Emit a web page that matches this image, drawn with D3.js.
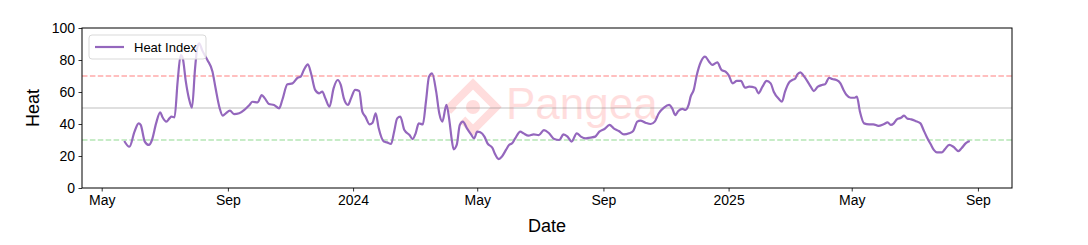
<!DOCTYPE html>
<html>
<head>
<meta charset="utf-8">
<script src="https://cdn.jsdelivr.net/npm/d3@7"></script>
<style>
  body { margin: 0; background: #fff; }
  svg { font-family: "Liberation Sans", Arial, sans-serif; }
</style>
</head>
<body>
<div id="chart"></div>
<script>
const W = 1088, H = 245;
const margin = {top: 28, right: 76, bottom: 57, left: 82};

// series
const dates = [
  "2023-05-23","2023-05-28","2023-06-02","2023-06-06","2023-06-08","2023-06-12","2023-06-16","2023-06-19",
  "2023-06-23","2023-06-27","2023-06-29","2023-07-03","2023-07-06","2023-07-08","2023-07-11","2023-07-14",
  "2023-07-17","2023-07-19","2023-07-22","2023-07-25","2023-07-28","2023-07-31","2023-08-02","2023-08-04",
  "2023-08-07","2023-08-12","2023-08-17","2023-08-20","2023-08-24","2023-08-27","2023-08-30","2023-09-03",
  "2023-09-07","2023-09-12","2023-09-17","2023-09-22","2023-09-25","2023-09-30","2023-10-04","2023-10-07",
  "2023-10-11","2023-10-16","2023-10-21","2023-10-24","2023-10-29","2023-11-03","2023-11-08","2023-11-11",
  "2023-11-14","2023-11-18","2023-11-21","2023-11-25","2023-11-29","2023-12-02","2023-12-05","2023-12-09",
  "2023-12-13","2023-12-17","2023-12-20","2023-12-23","2023-12-27","2023-12-30",
  "2024-01-03","2024-01-07","2024-01-10","2024-01-13","2024-01-17","2024-01-20","2024-01-23","2024-01-26",
  "2024-01-31","2024-02-03","2024-02-07","2024-02-10","2024-02-13","2024-02-16","2024-02-20","2024-02-25",
  "2024-02-28","2024-03-02","2024-03-05","2024-03-09","2024-03-12","2024-03-15","2024-03-18","2024-03-22",
  "2024-03-25","2024-03-28","2024-04-01","2024-04-04","2024-04-06","2024-04-08","2024-04-11","2024-04-14",
  "2024-04-17","2024-04-21","2024-04-25","2024-04-28","2024-05-01","2024-05-04","2024-05-08","2024-05-11",
  "2024-05-16","2024-05-18","2024-05-22","2024-05-25","2024-05-29","2024-06-01","2024-06-04","2024-06-07",
  "2024-06-12","2024-06-15","2024-06-20","2024-06-25","2024-06-30","2024-07-05","2024-07-10","2024-07-15",
  "2024-07-20","2024-07-24","2024-07-28","2024-08-01","2024-08-06","2024-08-10","2024-08-15","2024-08-19",
  "2024-08-24","2024-08-28","2024-09-02","2024-09-07","2024-09-11","2024-09-16","2024-09-21","2024-09-26",
  "2024-09-30","2024-10-04","2024-10-07","2024-10-12","2024-10-17","2024-10-21","2024-10-25","2024-10-30",
  "2024-11-04","2024-11-07","2024-11-10","2024-11-13","2024-11-17","2024-11-20","2024-11-23","2024-11-25",
  "2024-11-28","2024-12-01","2024-12-05","2024-12-09","2024-12-13","2024-12-16","2024-12-21","2024-12-25",
  "2024-12-29",
  "2025-01-01","2025-01-05","2025-01-09","2025-01-13","2025-01-17","2025-01-21","2025-01-27","2025-01-30",
  "2025-02-03","2025-02-07","2025-02-11","2025-02-14","2025-02-19","2025-02-22","2025-02-25","2025-03-01",
  "2025-03-04","2025-03-07","2025-03-09","2025-03-12","2025-03-15","2025-03-19","2025-03-22","2025-03-25",
  "2025-03-29","2025-04-02","2025-04-05","2025-04-09","2025-04-12","2025-04-16","2025-04-20","2025-04-23",
  "2025-04-26","2025-04-30","2025-05-04","2025-05-06","2025-05-09","2025-05-13","2025-05-18","2025-05-22",
  "2025-05-27","2025-06-01","2025-06-05","2025-06-08","2025-06-11","2025-06-14","2025-06-18","2025-06-21",
  "2025-06-24","2025-06-28","2025-07-02","2025-07-07","2025-07-10","2025-07-13","2025-07-17","2025-07-20",
  "2025-07-23","2025-07-28","2025-07-31","2025-08-04","2025-08-08","2025-08-13","2025-08-16","2025-08-20",
  "2025-08-24"
];

const heat = [
  29.4,25.8,35.2,40.4,39.4,29,26.9,30,
  40.4,47.3,44.6,41.5,43.5,44.6,44.2,66.5,
  83,81,66.5,56,50.2,74.8,87,90.4,
  86,80,72.7,62.3,49.8,45.2,46.7,48.3,
  46.2,46.7,48.8,51.9,53.9,53.5,58.1,56,
  52.5,51.9,49.8,55,64.8,65.4,68.9,69.6,
  73.8,77.3,71.7,61.3,59.2,60.2,56,50.8,
  62.3,67.5,64.4,56,51.9,56,
  61.3,60.6,47.7,44.6,39.8,40.8,46.7,37.3,
  29,28.5,27.5,35.2,43.5,44.6,36.2,33.1,
  30.6,34.2,40.4,39.8,53.9,69.6,71.7,60.2,
  46.7,41.5,51.9,41.5,31,24.2,26.9,39.4,
  41.5,37.3,33.5,31,35.2,34.8,32.1,27.9,
  24.8,21.7,18.1,19.6,23.8,26.9,27.9,31,
  35.2,34.2,32.7,33.5,33.1,36.2,34.2,30.6,
  30,33.5,32.1,29,34.2,32.1,31,31.5,
  32.1,35.2,36.9,39.4,37.3,35.6,33.5,34.2,
  35.6,41.5,42.1,40.8,40,41.5,46.7,50.2,
  51.9,49.8,45.6,48.1,49.4,48.8,51.9,57.1,
  61.3,70.6,78.9,82.1,78.9,76.9,78.5,73.8,
  72.7,
  70.6,65.4,66.9,66.9,62.7,63.3,62.7,59.2,
  63.3,66.9,65.4,60.2,55.6,53.9,60.2,66,
  67.5,68.5,71,72.3,70.2,66.5,63.3,60.6,
  63.3,64.4,64.8,68.9,68.1,67.5,65.4,61.3,
  58.1,56.4,56.4,57.1,47.7,40.4,39.8,39.8,
  38.8,39.8,41,39.4,40.4,42.9,43.9,45.2,
  43.5,42.9,41.9,40.4,36.2,32.1,27.3,23.8,
  22.3,22.3,24.4,26.9,25.8,23.1,24.8,27.9,
  29.4
];

const yTicks = [0, 20, 40, 60, 80, 100];
const refLevels = [70, 50, 30];
const refColors = ["#ff0000", "#808080", "#22b422"];
const refDash = ["5.5,2.4", null, "5.5,2.4"];
const seriesName = "Heat Index";

const parse = d3.timeParse("%Y-%m-%d");
const data = dates.map((d, i) => ({date: parse(d), value: heat[i]}));

const svg = d3.select("#chart").append("svg")
  .attr("width", W).attr("height", H);

const iw = W - margin.left - margin.right;
const ih = H - margin.top - margin.bottom;

// matplotlib-like 5% padding on the time axis
const ext = d3.extent(data, d => d.date);
const pad = (ext[1] - ext[0]) * 0.05;
const x = d3.scaleTime()
  .domain([new Date(+ext[0] - pad), new Date(+ext[1] + pad)])
  .range([margin.left, margin.left + iw]);
const y = d3.scaleLinear().domain([0, 100]).range([margin.top + ih, margin.top]);

// watermark
const wm = svg.append("g").attr("fill", "#ff0000").attr("opacity", 0.13);
wm.append("path")
  .attr("d", "M473,84 L496,107 L473,130 L450,107 Z")
  .attr("fill", "none").attr("stroke", "#ff0000").attr("stroke-width", 8)
  .attr("stroke-dasharray", "80,12");
wm.append("circle").attr("cx", 473).attr("cy", 107).attr("r", 7);
wm.append("text").attr("x", 506).attr("y", 119)
  .attr("font-size", 44).text("Pangea");

// reference lines
svg.append("g").selectAll("line")
  .data(refLevels).join("line")
  .attr("x1", margin.left).attr("x2", margin.left + iw)
  .attr("y1", d => y(d)).attr("y2", d => y(d))
  .attr("stroke", (d, i) => refColors[i])
  .attr("stroke-opacity", 0.5)
  .attr("stroke-width", 1.2)
  .attr("stroke-dasharray", (d, i) => refDash[i]);

// series
const line = d3.line()
  .x(d => x(d.date))
  .y(d => y(d.value))
  .curve(d3.curveMonotoneX);

svg.append("path")
  .datum(data)
  .attr("d", line)
  .attr("fill", "none")
  .attr("stroke", "#9467bd")
  .attr("stroke-width", 2.2)
  .attr("stroke-linejoin", "round");

// axes
const fmt = d => d.getMonth() === 0 ? d3.timeFormat("%Y")(d) : d3.timeFormat("%b")(d);
const xAxis = svg.append("g")
  .attr("transform", `translate(0,${margin.top + ih})`)
  .call(d3.axisBottom(x).ticks(d3.timeMonth.every(4)).tickFormat(fmt).tickSize(3.5).tickPadding(4));
const yAxis = svg.append("g")
  .attr("transform", `translate(${margin.left},0)`)
  .call(d3.axisLeft(y).tickValues(yTicks).tickSize(3.5).tickPadding(3.5));

[xAxis, yAxis].forEach(a => {
  a.select(".domain").remove();
  a.selectAll("text").attr("font-size", 14).attr("fill", "#000")
    .attr("font-family", "Liberation Sans, Arial, sans-serif");
  a.selectAll("line").attr("stroke", "#000").attr("stroke-width", 0.8);
});

// frame
svg.append("rect")
  .attr("x", margin.left).attr("y", margin.top)
  .attr("width", iw).attr("height", ih)
  .attr("fill", "none").attr("stroke", "#000").attr("stroke-width", 1);

// axis labels
svg.append("text")
  .attr("x", margin.left + iw / 2).attr("y", 232)
  .attr("text-anchor", "middle").attr("font-size", 18).text("Date");
svg.append("text")
  .attr("transform", `translate(39,${margin.top + ih / 2}) rotate(-90)`)
  .attr("text-anchor", "middle").attr("font-size", 18).text("Heat");

// legend
const lg = svg.append("g").attr("transform", "translate(89,35)");
lg.append("rect")
  .attr("width", 117).attr("height", 24).attr("rx", 3)
  .attr("fill", "#fff").attr("fill-opacity", 0.8)
  .attr("stroke", "#d9d9d9").attr("stroke-width", 1);
lg.append("line")
  .attr("x1", 6).attr("x2", 35).attr("y1", 12).attr("y2", 12)
  .attr("stroke", "#9467bd").attr("stroke-width", 2.2);
lg.append("text")
  .attr("x", 45).attr("y", 16.5).attr("font-size", 13).text(seriesName);
</script>
</body>
</html>
